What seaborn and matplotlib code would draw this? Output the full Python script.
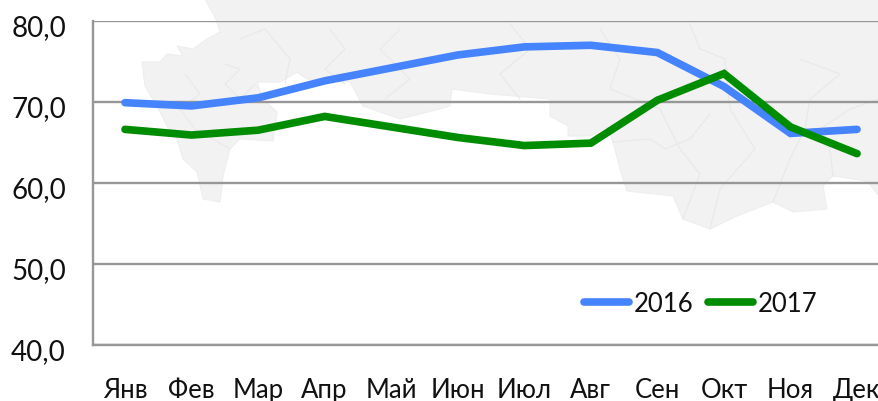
import matplotlib
matplotlib.use("Agg")
import matplotlib.pyplot as plt
from matplotlib.patches import Polygon
from matplotlib.lines import Line2D
from matplotlib.transforms import Affine2D, ScaledTranslation
import pandas as pd
import seaborn as sns

months = ["Янв", "Фев", "Мар", "Апр", "Май", "Июн", "Июл", "Авг", "Сен", "Окт", "Ноя", "Дек"]
values_2016 = [69.9, 69.5, 70.5, 72.6, 74.2, 75.8, 76.8, 77.0, 76.1, 71.9, 66.1, 66.6]
values_2017 = [66.6, 65.9, 66.5, 68.2, 66.9, 65.6, 64.6, 64.9, 70.2, 73.5, 66.9, 63.6]
years = ["2016", "2017"]
line_colors = ["#4683FF", "#008C00"]
y_ticks = [40, 50, 60, 70, 80]

# decorative background map silhouette, image pixel coordinates
map_outline = [
    (205, 0), (216, 20), (220, 33), (207, 40), (193, 50), (177, 47), (183, 57), (167, 55), (160, 63),
    (142, 63), (145, 87), (157, 107), (167, 127), (177, 140), (183, 160), (197, 173), (203, 200),
    (220, 203), (223, 177), (230, 150), (240, 140), (273, 142), (277, 113), (263, 100), (257, 83),
    (280, 83), (297, 73), (307, 80), (350, 83), (363, 107), (400, 120), (440, 110), (450, 107),
    (452, 90), (490, 95), (550, 100), (550, 117), (568, 127), (568, 137), (590, 137), (607, 128),
    (613, 143), (620, 170), (627, 192), (673, 197), (683, 220), (710, 230), (737, 217), (773, 203),
    (793, 213), (827, 210), (823, 187), (833, 177), (867, 182), (879, 197), (879, 0),
]
map_borders = [
    [(240, 40), (265, 30), (290, 60), (285, 85)],
    [(225, 65), (240, 70), (225, 85), (240, 100), (255, 85)],
    [(185, 75), (200, 95), (180, 110), (195, 130), (230, 150)],
    [(330, 30), (345, 50), (325, 70), (345, 85)],
    [(400, 30), (380, 50), (410, 80), (385, 100)],
    [(510, 25), (530, 50), (500, 75), (520, 100)],
    [(600, 30), (620, 60), (610, 90), (660, 110), (680, 150), (700, 175), (683, 220)],
    [(690, 25), (700, 50), (725, 60), (730, 110), (755, 150), (720, 190), (710, 230)],
    [(800, 60), (840, 75), (810, 100), (805, 130), (790, 160), (773, 203)],
    [(613, 143), (650, 140), (665, 150), (690, 140), (710, 115)],
    [(879, 100), (850, 110), (820, 130), (830, 150), (833, 177)],
]

df = pd.DataFrame({
    "month": months * 2,
    "value": values_2016 + values_2017,
    "year": [years[0]] * 12 + [years[1]] * 12,
})

W, H = 879, 402
sns.set_theme(style="white")
plt.rcParams["font.family"] = ["Lato", "DejaVu Sans"]
fig = plt.figure(figsize=(W / 100, H / 100), dpi=100, facecolor="white")
ax = fig.add_axes([93 / W, 1 - 345.5 / H, (W - 93) / W, (345.5 - 22) / H])
ax.patch.set_alpha(0)

px = Affine2D().scale(1, -1).translate(0, H)
fig.add_artist(Polygon(map_outline, closed=True, facecolor="#F2F2F2", edgecolor="#EEEEEE",
                       linewidth=0.8, joinstyle="round", transform=px, zorder=-5))
for b in map_borders:
    xs, ys = zip(*b)
    fig.add_artist(Line2D(xs, ys, color="#E9E9E9", linewidth=0.9, transform=px, zorder=-4))

sns.lineplot(data=df, x="month", y="value", hue="year", palette=line_colors, sort=False,
             linewidth=5.5, legend=False, ax=ax,
             solid_capstyle="round", solid_joinstyle="miter", zorder=3)

ax.set_xlim((93 - 125) / 66.55, (W - 125) / 66.55)
ax.set_ylim(40, 80)
ax.set_yticks(y_ticks)
ax.set_yticklabels([f"{v},0" for v in y_ticks])
ax.set_xlabel("")
ax.set_ylabel("")
ax.grid(False)
ax.yaxis.grid(True, color="#979797", linewidth=1.7, zorder=1)
ax.set_axisbelow(True)
for side in ["top", "right"]:
    ax.spines[side].set_visible(False)
for side in ["left", "bottom"]:
    ax.spines[side].set_color("#979797")
    ax.spines[side].set_linewidth(1.7)
ax.tick_params(axis="y", length=0, pad=19.5, labelsize=20, labelcolor="#111111")
ax.tick_params(axis="x", length=0, pad=23.5, labelsize=18.5, labelcolor="#111111")
shift = ScaledTranslation(0, -4 / 100, fig.dpi_scale_trans)
for lab in ax.get_yticklabels():
    lab.set_transform(lab.get_transform() + shift)

handles = [Line2D([], [], color=c, linewidth=5.5, solid_capstyle="round") for c in line_colors]
ax.legend(handles, years, frameon=False, ncol=2, fontsize=18.5, loc="center left",
          bbox_to_anchor=((584 - 93) / (W - 93), (345.5 - 304.5) / (345.5 - 22)),
          handlelength=1.75, handletextpad=0.2, columnspacing=0.55, labelcolor="#111111",
          borderpad=0, borderaxespad=0)

fig.savefig("out.png", dpi=100)
